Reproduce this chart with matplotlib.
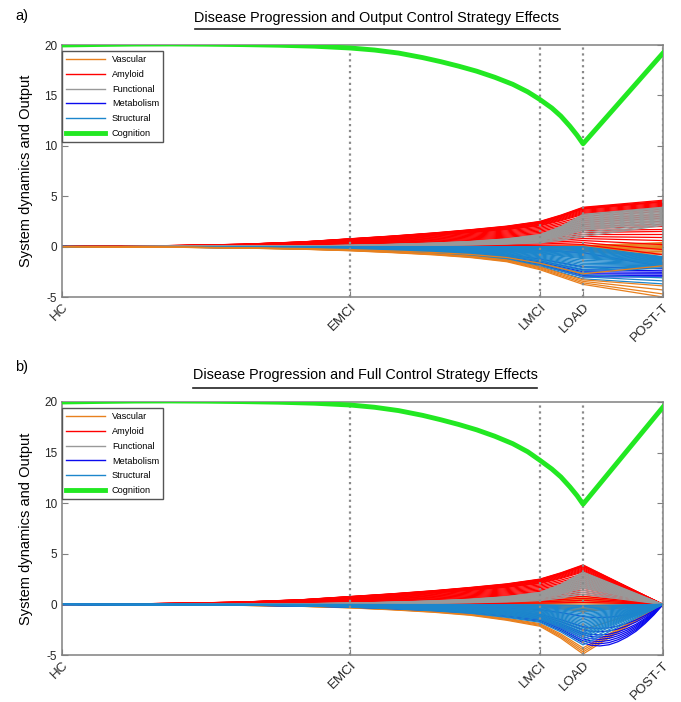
import matplotlib
matplotlib.use("Agg")
import matplotlib.pyplot as plt
from matplotlib.lines import Line2D

plt.rcParams['font.family'] = ['Liberation Sans', 'DejaVu Sans']
plt.rcParams['axes.unicode_minus'] = False

# stages of the disease (x axis)
stage_names = ['HC', 'EMCI', 'LMCI', 'LOAD', 'POST-T']
stage_t = [0, 48, 79.5, 86.7, 100]

# shape of the trajectories up to LOAD, as a fraction of the LOAD value
t_pre = [0, 10, 20, 30, 40, 48, 55, 62, 68, 74, 79.5, 83, 86.7]
rise_early = [0, .01, .03, .06, .12, .20, .27, .35, .43, .52, .64, .80, 1]
rise_late = [0, 0, .005, .01, .02, .04, .07, .11, .16, .24, .37, .62, 1]
fall_a = [0, .01, .02, .04, .07, .11, .16, .22, .29, .40, .61, .80, 1]
fall_b = [0, .005, .01, .02, .04, .07, .11, .16, .22, .32, .44, .68, 1]

# cognition output
cog_t = [0, 6, 12, 18, 24, 30, 36, 42, 48, 52, 56, 60, 63, 66, 69, 72, 75, 77.5,
         79.5, 81.5, 83, 84.5, 85.7, 86.7, 100]
cog_a = [20.0, 20.05, 20.09, 20.1, 20.08, 20.04, 19.98, 19.88, 19.7, 19.5, 19.2, 18.75,
         18.35, 17.9, 17.4, 16.8, 16.1, 15.35, 14.6, 13.75, 12.95, 11.95, 11.05, 10.2, 19.2]
cog_b = [20.0, 20.05, 20.09, 20.1, 20.08, 20.04, 19.98, 19.88, 19.7, 19.48, 19.15, 18.68,
         18.25, 17.78, 17.25, 16.62, 15.88, 15.08, 14.25, 13.38, 12.6, 11.62, 10.75, 9.9, 19.5]

# Amyloid (red)
amyloid_load = [3.9, 3.85, 3.8, 3.75, 3.7, 3.6, 3.5, 3.4, 3.3, 3.2, 3.0, 2.8, 2.6,
                2.4, 2.2, 2.0, 1.8, 1.6, 1.4, 1.2, 1.0, 0.8, 0.6, 0.4, 0.2]
amyloid_post_a = [4.6, 4.5, 4.45, 4.4, 4.3, 4.2, 4.1, 4.0, 3.9, 3.7, 3.5, 3.2, 3.0,
                  2.8, 2.5, 2.2, 2.0, 1.7, 1.5, 1.2, 0.9, 0.6, 0.2, -0.3, -0.8]

# Functional (gray)
functional_load = [3.2, 3.1, 3.0, 2.9, 2.8, 2.7, 2.6, 2.5, 2.4, 2.3, 2.2, 2.1, 2.0,
                   1.9, 1.8, 1.7, 1.6, 1.4, 1.2, 1.0]
functional_post_a = [3.9, 3.85, 3.8, 3.7, 3.6, 3.5, 3.4, 3.3, 3.2, 3.1, 3.0, 2.9, 2.8,
                     2.7, 2.6, 2.5, 2.4, 2.3, 2.2, 2.1]

# Vascular (orange), middle fan and lower lines
vascular_mid_load_a = [0.1, 0.05, 0.0, -0.05, -0.1, -0.15, -0.2, -0.25, -0.3, -0.35, -0.4, -0.45]
vascular_mid_post_a = [0.4, 0.3, 0.2, 0.1, 0.0, -0.1, -0.2, -0.35, -0.5, -0.65, -0.8, -1.0]
vascular_mid_load_b = [0.8, 0.65, 0.5, 0.35, 0.2, 0.05, -0.1, -0.25, -0.4, -0.55, -0.7]
vascular_low_load_a = [-2.7, -3.3, -3.45, -3.6, -3.75]
vascular_low_post_a = [-1.9, -3.9, -4.3, -4.7, -5.0]
vascular_low_load_b = [-2.5, -4.3, -4.5, -4.7, -4.9]

# Structural (steel blue)
structural_load_a = [0.0, -0.1, -0.2, -0.3, -0.4, -0.5, -0.6, -0.7, -0.8, -0.9, -1.0, -1.1, -1.2,
                     -1.35, -1.5, -1.65, -1.8, -1.95, -2.1, -2.25, -2.4, -2.6, -2.8, -3.0, -3.2]
structural_post_a = [-1.0, -1.05, -1.1, -1.15, -1.2, -1.25, -1.3, -1.35, -1.4, -1.45, -1.5, -1.55, -1.6,
                     -1.65, -1.7, -1.75, -1.8, -1.85, -1.9, -1.95, -2.0, -2.1, -3.1, -3.4, -3.7]
structural_load_b = [-0.1, -0.2, -0.35, -0.5, -0.65, -0.8, -0.95, -1.1, -1.25, -1.4, -1.55, -1.7, -1.85,
                     -2.0, -2.15, -2.3, -2.45, -2.6, -2.75, -2.9, -3.05, -3.2, -3.4, -3.7, -4.0]

# Metabolism (blue)
metabolism_load_a = [-0.6, -2.0, -2.3, -2.5, -2.7, -2.85, -3.0]
metabolism_post_a = [-2.0, -2.2, -2.4, -2.55, -2.7, -2.85, -3.0]
metabolism_load_b = [-1.2, -2.2, -2.5, -2.8, -3.0, -3.2, -3.4, -3.6, -3.8]
# panel b: metabolism returns to zero along a curve (fraction of LOAD value)
post_t_b = [88, 89.5, 91, 92.5, 94, 95.5, 97, 98.5, 100]
metabolism_return_b = [1.06, 1.08, 1.05, 0.97, 0.85, 0.7, 0.5, 0.27, 0]

# full control brings every state back to this value
post_target_b = 0.0

colors = {'Vascular': '#e8801e', 'Amyloid': '#ff0000', 'Functional': '#999999',
          'Metabolism': '#0a0aee', 'Structural': '#1c86cc', 'Cognition': '#22e822'}


def draw_group(ax, load_vals, post_vals, profile, color, post_shape=None, lw=0.9):
    for lv, pv in zip(load_vals, post_vals):
        xs = list(t_pre)
        ys = [lv * f for f in profile]
        if post_shape is None:
            xs.append(stage_t[-1])
            ys.append(pv)
        else:
            xs += post_t_b
            ys += [lv * f for f in post_shape]
        ax.plot(xs, ys, color=color, lw=lw, zorder=2)


def setup_axes(ax):
    for t in stage_t[1:]:
        ax.axvline(t, color='#8a8a8a', ls=':', lw=1.6, zorder=3)
    ax.set_xlim(stage_t[0], stage_t[-1])
    ax.set_ylim(-5, 20)
    ax.set_yticks([-5, 0, 5, 10, 15, 20])
    ax.set_xticks(stage_t)
    ax.set_xticklabels(stage_names, rotation=45, ha='right', va='top',
                       rotation_mode='anchor', fontsize=9.6, color='#262626')
    ax.tick_params(axis='y', labelsize=8.5, labelcolor='#262626')
    ax.tick_params(direction='in', length=4, color='#808080', right=True, top=False)
    ax.tick_params(axis='x', pad=3)
    for s in ax.spines.values():
        s.set_color('#808080')
        s.set_linewidth(1.1)
    ax.set_ylabel('System dynamics and Output', fontsize=10.5, labelpad=8)
    handles = [Line2D([0], [0], color=colors[k], lw=(3.5 if k == 'Cognition' else 1.0), label=k)
               for k in colors]
    leg = ax.legend(handles=handles, loc='upper left', bbox_to_anchor=(0, 0.975),
                    borderaxespad=0, fontsize=6.6, handlelength=4.2, handletextpad=0.8,
                    labelspacing=0.62, borderpad=0.45, fancybox=False, framealpha=1)
    leg.get_frame().set_edgecolor('#555555')
    leg.get_frame().set_linewidth(1.0)
    leg.set_zorder(5)


fig = plt.figure(figsize=(6.81, 7.02), dpi=100)
ax_a = fig.add_axes([62 / 681, 405 / 702, 601 / 681, 252 / 702])
ax_b = fig.add_axes([62 / 681, 47 / 702, 601 / 681, 253 / 702])

# panel a: output control
draw_group(ax_a, vascular_mid_load_a, vascular_mid_post_a, rise_late, colors['Vascular'])
draw_group(ax_a, amyloid_load, amyloid_post_a, rise_early, colors['Amyloid'])
draw_group(ax_a, functional_load, functional_post_a, rise_late, colors['Functional'])
draw_group(ax_a, metabolism_load_a, metabolism_post_a, fall_a, colors['Metabolism'])
draw_group(ax_a, structural_load_a, structural_post_a, fall_a, colors['Structural'])
draw_group(ax_a, vascular_low_load_a, vascular_low_post_a, fall_a, colors['Vascular'])
ax_a.plot(cog_t, cog_a, color=colors['Cognition'], lw=3.5, zorder=4)
setup_axes(ax_a)

# panel b: full control
zero = lambda v: [post_target_b] * len(v)
draw_group(ax_b, vascular_mid_load_b, zero(vascular_mid_load_b), rise_late, colors['Vascular'])
draw_group(ax_b, amyloid_load, zero(amyloid_load), rise_early, colors['Amyloid'])
draw_group(ax_b, functional_load, zero(functional_load), rise_late, colors['Functional'])
draw_group(ax_b, vascular_low_load_b, zero(vascular_low_load_b), fall_b, colors['Vascular'])
draw_group(ax_b, metabolism_load_b, zero(metabolism_load_b), fall_b, colors['Metabolism'],
           post_shape=metabolism_return_b)
draw_group(ax_b, structural_load_b, zero(structural_load_b), fall_b, colors['Structural'])
ax_b.plot(cog_t, cog_b, color=colors['Cognition'], lw=3.5, zorder=4)
setup_axes(ax_b)

# panel letters and underlined titles
fig.text(15 / 681, 1 - 16 / 702, 'a)', fontsize=10.5, va='center')
fig.text(15 / 681, 1 - 367 / 702, 'b)', fontsize=10.5, va='center')
titles = [('Disease Progression and Output Control Strategy Effects', 377, 18, 29),
          ('Disease Progression and Full Control Strategy Effects', 365, 375, 388)]
fig.canvas.draw()
r = fig.canvas.get_renderer()
for txt, cx, cy, uy in titles:
    t = fig.text(cx / 681, 1 - cy / 702, txt, fontsize=10.4, ha='center', va='center')
    bb = t.get_window_extent(renderer=r)
    x0, x1 = bb.x0 / fig.bbox.width, bb.x1 / fig.bbox.width
    fig.add_artist(Line2D([x0, x1], [1 - uy / 702] * 2, color='#222222', lw=1.2))

fig.savefig('out.png', dpi=100, facecolor='white')
